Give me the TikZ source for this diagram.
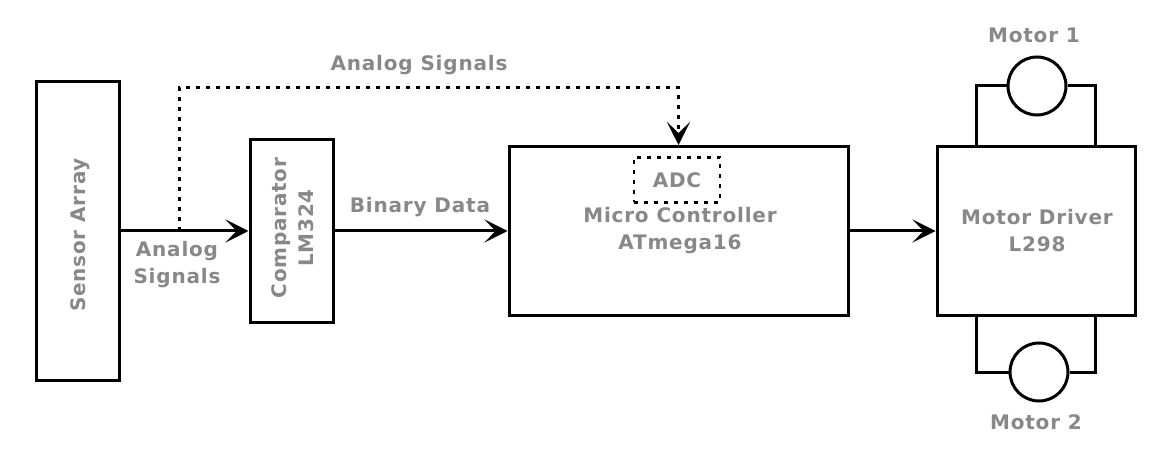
\documentclass[tikz,border=0pt]{standalone}
\usepackage{fontspec}
\newfontfamily\lblfont{DejaVu Sans Bold}[LetterSpace=4]
\usetikzlibrary{arrows.meta,calc}
\definecolor{txtgray}{RGB}{136,136,136}

\tikzset{bloc/.style = {draw, rectangle, line width=3pt, minimum width=#1},
         bloc/.default=83pt,
         lbl/.style = {text=txtgray, align=center, inner sep=0pt,
                       font=\lblfont\fontsize{20}{27}\selectfont},
         moteur/.style = {draw, circle, line width=3pt, minimum size=58pt}
        }

\begin{document}
\begin{tikzpicture}[x=1pt,y=-1pt]
  \tikzstyle{fleche}=[line width=3pt,-{Stealth[length=23pt,width=23pt,inset=11pt]}]
  \tikzstyle{pointille}=[fleche,dash pattern=on 4pt off 6pt]
  \tikzstyle{fil}=[line width=3pt]
  \useasboundingbox (0,0) rectangle (1162,449);
  % blocs
  \node[bloc, minimum height=298pt] (sensor) at (77.5,231) {};
  \node[lbl, rotate=90] (sensortxt) at (80,235) {Sensor Array};
  \node[bloc, minimum height=183pt] (comp) at (291.5,231) {};
  \node[lbl, rotate=90] (comptxt) at (293,228) {Comparator\\LM324};
  \node[bloc=339pt, minimum height=169pt] (micro) at (678.5,231) {};
  \node[lbl] (microtxt) at (680,231) {Micro Controller\\ATmega16};
  \node[bloc=86pt, minimum height=45pt, line width=2.5pt,
        dash pattern=on 4pt off 6pt] (adc) at (677,180) {};
  \node[lbl] (adctxt) at (adc) {ADC};
  \node[bloc=198pt, minimum height=168pt] (driver) at (1036,231) {};
  \node[lbl] (drivertxt) at (1037,231) {Motor Driver\\L298};
  % moteurs
  \node[moteur] (motor1) at (1037,86) {};
  \node[moteur] (motor2) at (1039,372) {};
  \node[lbl] (m1txt) at (1034,35) {Motor 1};
  \node[lbl] (m2txt) at (1036,422) {Motor 2};
  % liaisons
  \coordinate (tap) at (179,231);
  \coordinate (haut) at (678.5,88);
  \draw[fleche] (sensor) -- (comp);
  \draw[fleche] (comp) -- (micro);
  \draw[fleche] (micro) -- (driver);
  \draw[pointille] (tap) |- (haut) -- (micro.north);
  \draw[fil] ([xshift=41pt]driver.north west) |- (motor1.west);
  \draw[fil] ([xshift=-41pt]driver.north east) |- (motor1.east);
  \draw[fil] ([xshift=41pt]driver.south west) |- (motor2.west);
  \draw[fil] ([xshift=-41pt]driver.south east) |- (motor2.east);
  % etiquettes
  \node[lbl] (analogtop) at (419,65) {Analog Signals};
  \node[lbl] (analogbas) at (177,265) {Analog\\Signals};
  \node[lbl] (binaire) at (420,207) {Binary Data};
\end{tikzpicture}
\end{document}
